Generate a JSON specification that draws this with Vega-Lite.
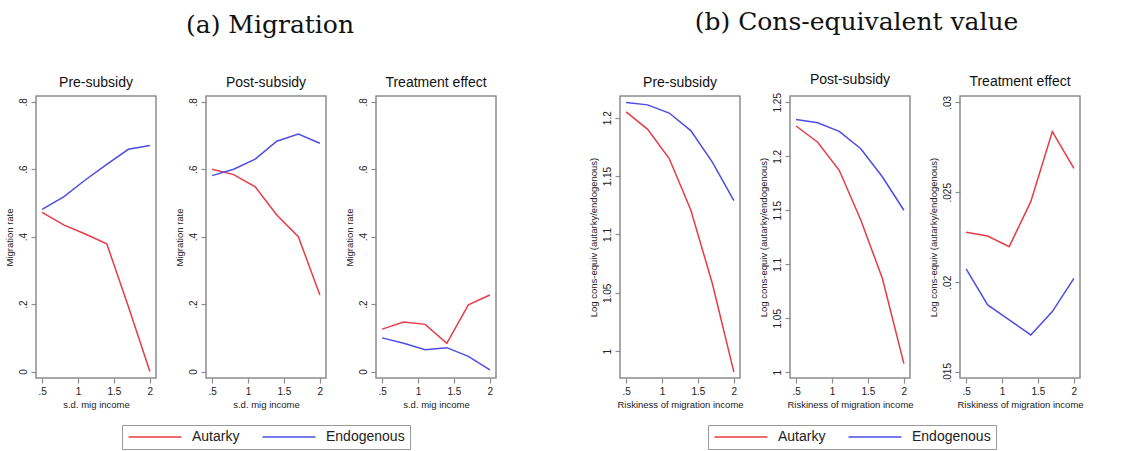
{
  "$schema": "https://vega.github.io/schema/vega-lite/v6.json",
  "background": "white",
  "padding": {"left": 3, "top": 9, "right": 5, "bottom": 0},
  "datasets": {
    "d": [
      {"p": 1, "series": "Autarky", "x": 0.5, "y": 0.472},
      {"p": 1, "series": "Autarky", "x": 0.8, "y": 0.435},
      {"p": 1, "series": "Autarky", "x": 1.1, "y": 0.408},
      {"p": 1, "series": "Autarky", "x": 1.4, "y": 0.379},
      {"p": 1, "series": "Autarky", "x": 1.7, "y": 0.193},
      {"p": 1, "series": "Autarky", "x": 2.0, "y": 0.0},
      {"p": 1, "series": "Endogenous", "x": 0.5, "y": 0.481},
      {"p": 1, "series": "Endogenous", "x": 0.8, "y": 0.518},
      {"p": 1, "series": "Endogenous", "x": 1.1, "y": 0.568},
      {"p": 1, "series": "Endogenous", "x": 1.4, "y": 0.614},
      {"p": 1, "series": "Endogenous", "x": 1.7, "y": 0.659},
      {"p": 1, "series": "Endogenous", "x": 2.0, "y": 0.670},
      {"p": 2, "series": "Autarky", "x": 0.5, "y": 0.600},
      {"p": 2, "series": "Autarky", "x": 0.8, "y": 0.584},
      {"p": 2, "series": "Autarky", "x": 1.1, "y": 0.548},
      {"p": 2, "series": "Autarky", "x": 1.4, "y": 0.464},
      {"p": 2, "series": "Autarky", "x": 1.7, "y": 0.400},
      {"p": 2, "series": "Autarky", "x": 2.0, "y": 0.227},
      {"p": 2, "series": "Endogenous", "x": 0.5, "y": 0.581},
      {"p": 2, "series": "Endogenous", "x": 0.8, "y": 0.600},
      {"p": 2, "series": "Endogenous", "x": 1.1, "y": 0.630},
      {"p": 2, "series": "Endogenous", "x": 1.4, "y": 0.683},
      {"p": 2, "series": "Endogenous", "x": 1.7, "y": 0.704},
      {"p": 2, "series": "Endogenous", "x": 2.0, "y": 0.677},
      {"p": 3, "series": "Autarky", "x": 0.5, "y": 0.126},
      {"p": 3, "series": "Autarky", "x": 0.8, "y": 0.147},
      {"p": 3, "series": "Autarky", "x": 1.1, "y": 0.140},
      {"p": 3, "series": "Autarky", "x": 1.4, "y": 0.084},
      {"p": 3, "series": "Autarky", "x": 1.7, "y": 0.198},
      {"p": 3, "series": "Autarky", "x": 2.0, "y": 0.227},
      {"p": 3, "series": "Endogenous", "x": 0.5, "y": 0.100},
      {"p": 3, "series": "Endogenous", "x": 0.8, "y": 0.084},
      {"p": 3, "series": "Endogenous", "x": 1.1, "y": 0.065},
      {"p": 3, "series": "Endogenous", "x": 1.4, "y": 0.071},
      {"p": 3, "series": "Endogenous", "x": 1.7, "y": 0.045},
      {"p": 3, "series": "Endogenous", "x": 2.0, "y": 0.005},
      {"p": 4, "series": "Autarky", "x": 0.5, "y": 1.205},
      {"p": 4, "series": "Autarky", "x": 0.8, "y": 1.190},
      {"p": 4, "series": "Autarky", "x": 1.1, "y": 1.165},
      {"p": 4, "series": "Autarky", "x": 1.4, "y": 1.121},
      {"p": 4, "series": "Autarky", "x": 1.7, "y": 1.058},
      {"p": 4, "series": "Autarky", "x": 2.0, "y": 0.982},
      {"p": 4, "series": "Endogenous", "x": 0.5, "y": 1.213},
      {"p": 4, "series": "Endogenous", "x": 0.8, "y": 1.211},
      {"p": 4, "series": "Endogenous", "x": 1.1, "y": 1.204},
      {"p": 4, "series": "Endogenous", "x": 1.4, "y": 1.189},
      {"p": 4, "series": "Endogenous", "x": 1.7, "y": 1.162},
      {"p": 4, "series": "Endogenous", "x": 2.0, "y": 1.129},
      {"p": 5, "series": "Autarky", "x": 0.5, "y": 1.228},
      {"p": 5, "series": "Autarky", "x": 0.8, "y": 1.213},
      {"p": 5, "series": "Autarky", "x": 1.1, "y": 1.187},
      {"p": 5, "series": "Autarky", "x": 1.4, "y": 1.141},
      {"p": 5, "series": "Autarky", "x": 1.7, "y": 1.087},
      {"p": 5, "series": "Autarky", "x": 2.0, "y": 1.008},
      {"p": 5, "series": "Endogenous", "x": 0.5, "y": 1.234},
      {"p": 5, "series": "Endogenous", "x": 0.8, "y": 1.231},
      {"p": 5, "series": "Endogenous", "x": 1.1, "y": 1.223},
      {"p": 5, "series": "Endogenous", "x": 1.4, "y": 1.207},
      {"p": 5, "series": "Endogenous", "x": 1.7, "y": 1.181},
      {"p": 5, "series": "Endogenous", "x": 2.0, "y": 1.150},
      {"p": 6, "series": "Autarky", "x": 0.5, "y": 0.02278},
      {"p": 6, "series": "Autarky", "x": 0.8, "y": 0.02257},
      {"p": 6, "series": "Autarky", "x": 1.1, "y": 0.02198},
      {"p": 6, "series": "Autarky", "x": 1.4, "y": 0.02448},
      {"p": 6, "series": "Autarky", "x": 1.7, "y": 0.02837},
      {"p": 6, "series": "Autarky", "x": 2.0, "y": 0.02633},
      {"p": 6, "series": "Endogenous", "x": 0.5, "y": 0.02074},
      {"p": 6, "series": "Endogenous", "x": 0.8, "y": 0.01874},
      {"p": 6, "series": "Endogenous", "x": 1.1, "y": 0.01791},
      {"p": 6, "series": "Endogenous", "x": 1.4, "y": 0.01707},
      {"p": 6, "series": "Endogenous", "x": 1.7, "y": 0.01837},
      {"p": 6, "series": "Endogenous", "x": 2.0, "y": 0.02022}
    ]
  },
  "data": {"name": "d"},
  "spacing": 90,
  "resolve": {"legend": {"color": "independent"}},
  "hconcat": [
    {
      "title": {"text": "(a) Migration", "anchor": "middle", "offset": 37, "dx": 20},
      "bounds": "flush",
      "spacing": 50,
      "hconcat": [
        {
          "width": 120, "height": 282,
          "title": {"text": "Pre-subsidy", "style": "panel", "offset": 6},
          "transform": [{"filter": "datum.p == 1"}],
          "mark": {"type": "line", "strokeWidth": 1.5},
          "encoding": {
            "x": {"field": "x", "type": "quantitative", "scale": {"domain": [0.415, 2.085], "nice": false, "zero": false}, "axis": {"values": [0.5, 1, 1.5, 2], "title": "s.d. mig income"}},
            "y": {"field": "y", "type": "quantitative", "scale": {"domain": [-0.019, 0.817], "nice": false, "zero": false}, "axis": {"values": [0, 0.2, 0.4, 0.6, 0.8], "title": "Migration rate"}},
            "color": {"field": "series", "type": "nominal", "scale": {"domain": ["Autarky", "Endogenous"], "range": ["#e63c46", "#4d4de6"]}, "legend": {"title": null, "legendX": 86, "legendY": 329}}
          }
        },
        {
          "width": 120, "height": 282,
          "title": {"text": "Post-subsidy", "style": "panel", "offset": 6},
          "transform": [{"filter": "datum.p == 2"}],
          "mark": {"type": "line", "strokeWidth": 1.5},
          "encoding": {
            "x": {"field": "x", "type": "quantitative", "scale": {"domain": [0.415, 2.085], "nice": false, "zero": false}, "axis": {"values": [0.5, 1, 1.5, 2], "title": "s.d. mig income"}},
            "y": {"field": "y", "type": "quantitative", "scale": {"domain": [-0.019, 0.817], "nice": false, "zero": false}, "axis": {"values": [0, 0.2, 0.4, 0.6, 0.8], "title": "Migration rate"}},
            "color": {"field": "series", "type": "nominal", "scale": {"domain": ["Autarky", "Endogenous"], "range": ["#e63c46", "#4d4de6"]}, "legend": {"title": null, "legendX": 86, "legendY": 329}}
          }
        },
        {
          "width": 120, "height": 282,
          "title": {"text": "Treatment effect", "style": "panel", "offset": 6},
          "transform": [{"filter": "datum.p == 3"}],
          "mark": {"type": "line", "strokeWidth": 1.5},
          "encoding": {
            "x": {"field": "x", "type": "quantitative", "scale": {"domain": [0.415, 2.085], "nice": false, "zero": false}, "axis": {"values": [0.5, 1, 1.5, 2], "title": "s.d. mig income"}},
            "y": {"field": "y", "type": "quantitative", "scale": {"domain": [-0.019, 0.817], "nice": false, "zero": false}, "axis": {"values": [0, 0.2, 0.4, 0.6, 0.8], "title": "Migration rate"}},
            "color": {"field": "series", "type": "nominal", "scale": {"domain": ["Autarky", "Endogenous"], "range": ["#e63c46", "#4d4de6"]}, "legend": {"title": null, "legendX": 86, "legendY": 329}}
          }
        }
      ]
    },
    {
      "title": {"text": "(b) Cons-equivalent value", "anchor": "middle", "offset": 37, "dx": 21},
      "bounds": "flush",
      "spacing": 50,
      "hconcat": [
        {
          "width": 120, "height": 282,
          "title": {"text": "Pre-subsidy", "style": "panel", "offset": 6},
          "transform": [{"filter": "datum.p == 4"}],
          "mark": {"type": "line", "strokeWidth": 1.5},
          "encoding": {
            "x": {"field": "x", "type": "quantitative", "scale": {"domain": [0.415, 2.085], "nice": false, "zero": false}, "axis": {"values": [0.5, 1, 1.5, 2], "title": "Riskiness of migration income"}},
            "y": {"field": "y", "type": "quantitative", "scale": {"domain": [0.977, 1.2186], "nice": false, "zero": false}, "axis": {"values": [1, 1.05, 1.1, 1.15, 1.2], "title": "Log cons-equiv (autarky/endogenous)"}},
            "color": {"field": "series", "type": "nominal", "scale": {"domain": ["Autarky", "Endogenous"], "range": ["#e63c46", "#4d4de6"]}, "legend": {"title": null, "legendX": 88, "legendY": 329}}
          }
        },
        {
          "width": 120, "height": 282,
          "title": {"text": "Post-subsidy", "style": "panel", "offset": 6},
          "transform": [{"filter": "datum.p == 5"}],
          "mark": {"type": "line", "strokeWidth": 1.5},
          "encoding": {
            "x": {"field": "x", "type": "quantitative", "scale": {"domain": [0.415, 2.085], "nice": false, "zero": false}, "axis": {"values": [0.5, 1, 1.5, 2], "title": "Riskiness of migration income"}},
            "y": {"field": "y", "type": "quantitative", "scale": {"domain": [0.9947, 1.2558], "nice": false, "zero": false}, "axis": {"values": [1, 1.05, 1.1, 1.15, 1.2, 1.25], "title": "Log cons-equiv (autarky/endogenous)"}},
            "color": {"field": "series", "type": "nominal", "scale": {"domain": ["Autarky", "Endogenous"], "range": ["#e63c46", "#4d4de6"]}, "legend": {"title": null, "legendX": 88, "legendY": 329}}
          }
        },
        {
          "width": 120, "height": 282,
          "title": {"text": "Treatment effect", "style": "panel", "offset": 6},
          "transform": [{"filter": "datum.p == 6"}],
          "mark": {"type": "line", "strokeWidth": 1.5},
          "encoding": {
            "x": {"field": "x", "type": "quantitative", "scale": {"domain": [0.415, 2.085], "nice": false, "zero": false}, "axis": {"values": [0.5, 1, 1.5, 2], "title": "Riskiness of migration income"}},
            "y": {"field": "y", "type": "quantitative", "scale": {"domain": [0.01468, 0.03035], "nice": false, "zero": false}, "axis": {"values": [0.015, 0.02, 0.025, 0.03], "title": "Log cons-equiv (autarky/endogenous)"}},
            "color": {"field": "series", "type": "nominal", "scale": {"domain": ["Autarky", "Endogenous"], "range": ["#e63c46", "#4d4de6"]}, "legend": {"title": null, "legendX": 88, "legendY": 329}}
          }
        }
      ]
    }
  ],
  "config": {
    "view": {"stroke": "#8c8c8c", "strokeWidth": 1.5},
    "title": {"font": "DejaVu Serif", "fontSize": 25, "fontWeight": "normal", "color": "#111", "anchor": "middle"},
    "style": {
      "panel": {"font": "Liberation Sans", "fontSize": 14, "fontWeight": "normal", "fill": "#111"}
    },
    "axis": {
      "domain": false,
      "grid": false,
      "ticks": true,
      "tickColor": "#8c8c8c",
      "tickSize": 5,
      "tickWidth": 1.2,
      "labelFont": "Liberation Sans",
      "labelFontSize": 10,
      "labelColor": "#222",
      "labelExpr": "replace(format(datum.value, '~g'), '0.', '.')",
      "titleFont": "Liberation Sans",
      "titleFontSize": 9.5,
      "titleFontWeight": "normal",
      "titleColor": "#222"
    },
    "axisY": {"labelAngle": -90, "labelAlign": "center", "labelBaseline": "bottom", "labelPadding": 3, "titlePadding": 4},
    "axisX": {"labelPadding": 3, "titlePadding": 3},
    "legend": {
      "orient": "none",
      "direction": "horizontal",
      "strokeColor": "#999",
      "padding": 5,
      "symbolType": "M-5.3,0H5.3",
      "symbolSize": 100,
      "symbolStrokeWidth": 1.5,
      "symbolOffset": 21,
      "labelOffset": 30,
      "labelFont": "Liberation Sans",
      "labelFontSize": 14,
      "labelColor": "#222",
      "columnPadding": 19
    }
  }
}
